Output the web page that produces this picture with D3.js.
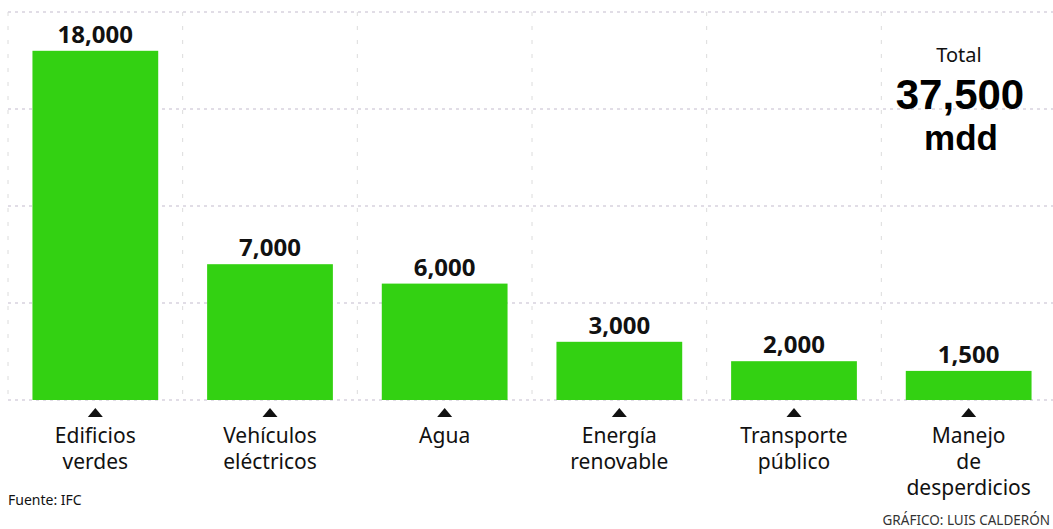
<!DOCTYPE html>
<html>
<head>
<meta charset="utf-8">
<script src="https://cdn.jsdelivr.net/npm/d3@7"></script>
<style>
  body { margin: 0; background: #fff; }
  svg { display: block; font-family: 'Noto Sans', sans-serif; }
</style>
</head>
<body>
<svg id="chart"></svg>
<script>
const categories = ['Edificios verdes', 'Vehículos eléctricos', 'Agua', 'Energía renovable', 'Transporte público', 'Manejo de desperdicios'];
const labelLines = [['Edificios', 'verdes'], ['Vehículos', 'eléctricos'], ['Agua'], ['Energía', 'renovable'], ['Transporte', 'público'], ['Manejo', 'de', 'desperdicios']];
const values = [18000, 7000, 6000, 3000, 2000, 1500];
const valueLabels = ['18,000', '7,000', '6,000', '3,000', '2,000', '1,500'];
const gridTicks = [0, 5000, 10000, 15000, 20000];

const width = 1053;
const height = 529;
const baseY = 400;

const svg = d3.select('#chart').attr('width', width).attr('height', height);

const xScale = d3.scaleBand().domain(categories).range([8, 1056]).paddingInner(0.28).paddingOuter(0.14);
const yScale = d3.scaleLinear().domain([0, 20000]).range([baseY, 12]);

// grid
const grid = svg.append('g');
grid.selectAll('.hgrid')
  .data(gridTicks)
  .join('line')
  .attr('class', 'hgrid')
  .attr('x1', 8).attr('x2', width)
  .attr('y1', d => yScale(d)).attr('y2', d => yScale(d))
  .attr('stroke', '#c4bccd')
  .attr('stroke-width', 1.1)
  .attr('stroke-dasharray', '3,4');

const step = xScale.step();
const bounds = categories.map(c => xScale(c) - step * xScale.paddingInner() / 2);
grid.selectAll('.vgrid')
  .data(bounds)
  .join('line')
  .attr('class', 'vgrid')
  .attr('x1', d => d).attr('x2', d => d)
  .attr('y1', yScale(20000)).attr('y2', baseY)
  .attr('stroke', '#dcdcdc')
  .attr('stroke-width', 1)
  .attr('stroke-dasharray', '4,10');

// bars
svg.selectAll('.bar')
  .data(values)
  .join('rect')
  .attr('class', 'bar')
  .attr('x', (d, i) => xScale(categories[i]))
  .attr('y', d => yScale(d))
  .attr('width', xScale.bandwidth())
  .attr('height', d => baseY - yScale(d))
  .attr('fill', '#33d112');

// value labels
svg.selectAll('.val')
  .data(values)
  .join('text')
  .attr('class', 'val')
  .attr('x', (d, i) => xScale(categories[i]) + xScale.bandwidth() / 2)
  .attr('y', d => yScale(d) - 8)
  .attr('text-anchor', 'middle')
  .attr('font-size', 24)
  .attr('font-weight', 'bold')
  .attr('fill', '#111')
  .text((d, i) => valueLabels[i]);

// triangles
svg.selectAll('.tri')
  .data(categories)
  .join('path')
  .attr('class', 'tri')
  .attr('transform', d => `translate(${xScale(d) + xScale.bandwidth() / 2}, 408)`)
  .attr('d', 'M0,0 L7.5,9 L-7.5,9 Z')
  .attr('fill', '#111');

// category labels
const cat = svg.selectAll('.cat')
  .data(categories)
  .join('text')
  .attr('class', 'cat')
  .attr('text-anchor', 'middle')
  .attr('font-size', 21)
  .attr('fill', '#111');
cat.selectAll('tspan')
  .data((d, i) => labelLines[i].map(t => ({ t, x: xScale(d) + xScale.bandwidth() / 2 })))
  .join('tspan')
  .attr('x', d => d.x)
  .attr('y', (d, j) => 443 + j * 26)
  .text(d => d.t);

// total
svg.append('text')
  .attr('x', 959).attr('y', 62)
  .attr('text-anchor', 'middle')
  .attr('font-size', 20)
  .attr('fill', '#111')
  .text('Total');
svg.append('text')
  .attr('x', 960).attr('y', 109)
  .attr('text-anchor', 'middle')
  .attr('font-family', "'Liberation Sans', sans-serif")
  .attr('font-size', 42)
  .attr('font-weight', 'bold')
  .attr('fill', '#000')
  .text('37,500');
svg.append('text')
  .attr('x', 961).attr('y', 150)
  .attr('text-anchor', 'middle')
  .attr('font-family', "'Liberation Sans', sans-serif")
  .attr('font-size', 35)
  .attr('font-weight', 'bold')
  .attr('fill', '#000')
  .text('mdd');

// footer
svg.append('text')
  .attr('x', 8).attr('y', 505)
  .attr('font-size', 14)
  .attr('fill', '#111')
  .text('Fuente: IFC');
svg.append('text')
  .attr('x', 1050).attr('y', 525)
  .attr('text-anchor', 'end')
  .attr('font-size', 13.5)
  .attr('fill', '#333')
  .text('GRÁFICO: LUIS CALDERÓN');
</script>
</body>
</html>
